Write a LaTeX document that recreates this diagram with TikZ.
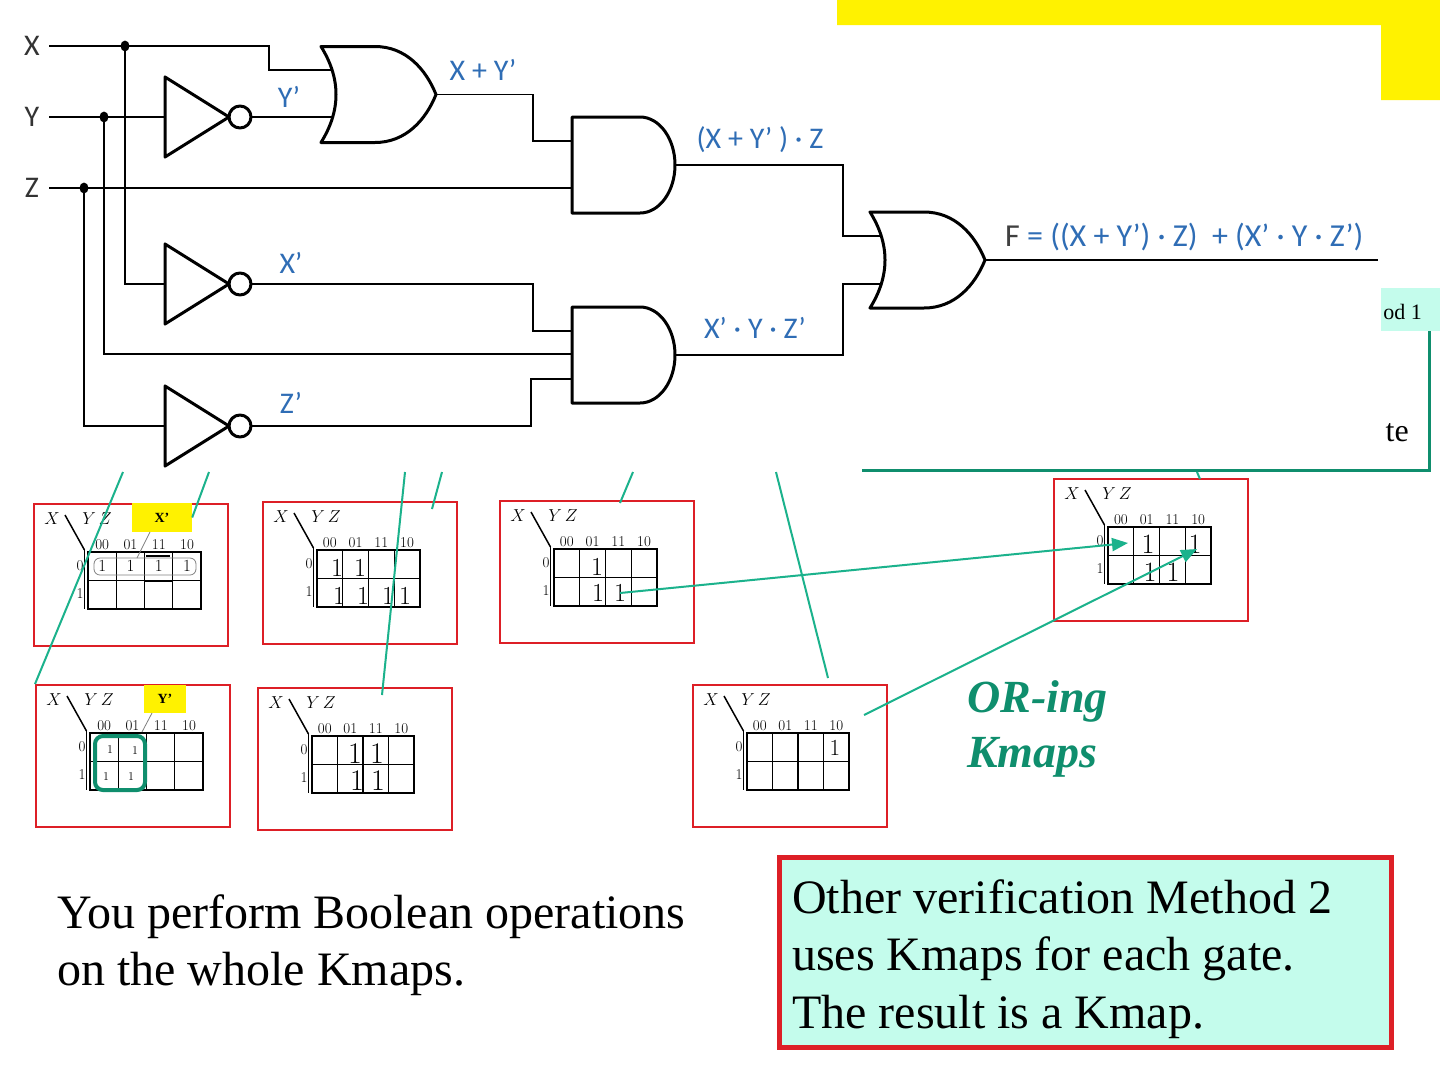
\documentclass[tikz,border=0pt]{standalone}
\usepackage{fontspec}
\newfontfamily\timesfont{Liberation Serif}
\newfontfamily\calfont{Carlito}
\usepackage{tikz}
\usetikzlibrary{arrows.meta}
\definecolor{wireblue}{HTML}{2F6DB5}
\definecolor{kred}{HTML}{DD1F26}
\definecolor{linkgreen}{HTML}{1BB28C}
\definecolor{darkteal}{HTML}{0F8E6D}
\definecolor{mint}{HTML}{C4FCEC}
\tikzstyle{wire} = [line width=1.8pt]
\tikzstyle{gate} = [line width=3pt, line join=round]
\tikzstyle{kbox} = [draw=kred, line width=2pt, minimum width=194pt, minimum height=142pt, inner sep=0pt]
\tikzstyle{kgrid} = [line width=2pt]
\tikzstyle{kline} = [line width=1.1pt]
\tikzstyle{klabel} = [inner sep=0pt, font=\fontsize{15}{15}\selectfont]
\tikzstyle{ktag} = [fill=yellow, inner sep=0pt, font=\timesfont\bfseries\fontsize{14}{14}\selectfont]
\tikzstyle{lead} = [gray, line width=0.8pt]
\tikzstyle{cirlabel} = [inner sep=0pt, text=wireblue, font=\calfont\fontsize{30}{30}\selectfont]
\tikzstyle{inlabel} = [inner sep=0pt, text=black!80, font=\calfont\fontsize{30}{30}\selectfont]
\tikzstyle{link} = [draw=linkgreen, line width=2pt]
\tikzstyle{arrow} = [link, -{Triangle[length=16pt,width=13pt]}]
\tikzset{
  kval/.style={inner sep=0pt, font=\fontsize{#1}{#1}\selectfont},
  orgate/.pic={\draw[gate] (0,-48) .. controls (20,-16) and (20,16) .. (0,48) -- (54,48)
      .. controls (85,48) and (105,25) .. (115,0) .. controls (105,-25) and (85,-48) .. (54,-48) -- cycle;},
  andgate/.pic={\draw[gate] (0,-48) -- (68,-48) .. controls (87.3,-48) and (103,-26.5) .. (103,0)
      .. controls (103,26.5) and (87.3,48) .. (68,48) -- (0,48) -- cycle;},
  notgate/.pic={\draw[gate] (0,-40) -- (64,0) -- (0,40) -- cycle; \draw[gate] (75,0) circle (11);}
}
% one Kmap: #1 name, #2 cell width (grid origin = scope origin)
\newcommand{\kmapgrid}[2]{%
  \node[kbox] (#1) at (43,23) {};
  \draw[kgrid] (0,0) rectangle (4*#2,57);
  \draw[kline] (0,28.5) -- (4*#2,28.5);
  \foreach \c in {1,2,3} \draw[kline] (\c*#2,0) -- (\c*#2,57);
  \draw[line width=1.3pt] (-3.5,-2) -- (-3.5,57);
  \draw[line width=1.5pt] (-23,-37) -- (-3.5,-2);
  \node[klabel, font=\fontsize{16}{16}\selectfont] (#1-x) at (-36,-33) {$X$};
  \node[klabel, font=\fontsize{16}{16}\selectfont] (#1-yz) at (9,-33) {$Y\,Z$};
  \foreach \h [count=\i from 0] in {00,01,11,10}
    \node[klabel] (#1-h\h) at ({(\i+0.5)*#2},-7) {\h};
  \node[klabel] (#1-r0) at (-8,14) {0};
  \node[klabel] (#1-r1) at (-8,42) {1};
}

\begin{document}
\begin{tikzpicture}[x=1pt,y=-1pt]
\useasboundingbox (0,0) rectangle (1440,1080);
\fill[white] (0,0) rectangle (1440,1080);

% pieces of the slide behind the circuit
\fill[yellow] (837,0) -- (1440,0) -- (1440,100) -- (1381,100) -- (1381,25) -- (837,25) -- cycle;
\fill[mint] (1381,288) rectangle (1440,331);
\begin{scope}
  \clip (1381,288) rectangle (1440,331);
  \node[anchor=base east, inner sep=0pt, font=\timesfont\fontsize{22}{22}\selectfont] (m1) at (1422,319) {od 1};
\end{scope}
\begin{scope}
  \clip (1381,400) rectangle (1428,468);
  \node[anchor=base east, inner sep=0pt, font=\timesfont\fontsize{32}{32}\selectfont] (m2) at (1409,441) {te};
\end{scope}
\draw[darkteal, line width=3pt] (862,470) -- (1429,470) -- (1429,331);

% circuit
\pic (not1) at (165,117) {notgate};
\pic (not2) at (165,284) {notgate};
\pic (not3) at (165,426) {notgate};
\pic (or1) at (321,94.5) {orgate};
\pic (and1) at (572,165) {andgate};
\pic (and2) at (572,355) {andgate};
\pic (or2) at (870,260) {orgate};

\draw[wire] (49,46) -- (269,46) -- (269,70) -- (332,70);
\draw[wire] (49,117) -- (165,117);
\draw[wire] (251,117) -- (332,117);
\draw[wire] (49,188) -- (572,188);
\draw[wire] (436,94.5) -- (533,94.5) -- (533,141) -- (572,141);
\draw[wire] (675,165) -- (843,165) -- (843,236) -- (881,236);
\draw[wire] (125,46) -- (125,284) -- (165,284);
\draw[wire] (251,284) -- (533,284) -- (533,331) -- (572,331);
\draw[wire] (104,117) -- (104,354) -- (572,354);
\draw[wire] (84,188) -- (84,426) -- (165,426);
\draw[wire] (251,426) -- (531,426) -- (531,379) -- (572,379);
\draw[wire] (675,355) -- (843,355) -- (843,284) -- (881,284);
\draw[wire] (984,260) -- (1378,260);
\foreach \p in {(125,46),(104,117),(84,188)} \fill \p ellipse (4.5 and 5.5);

\node[inlabel] (inx) at (32,46) {X};
\node[inlabel] (iny) at (32,117) {Y};
\node[inlabel] (inz) at (32,188) {Z};
\node[cirlabel] (lyp) at (289,97) {Y’};
\node[cirlabel] (lxp) at (291,263) {X’};
\node[cirlabel] (lzp) at (291,403) {Z’};
\node[cirlabel] (lor1) at (483,70) {X + Y’};
\node[cirlabel] (land1) at (760,140) {(X + Y’ ) · Z};
\node[cirlabel] (land2) at (755,328) {X’ · Y · Z’};
\node[cirlabel, anchor=west, font=\calfont\fontsize{32}{32}\selectfont] (lf) at (1005,237)
  {\textcolor{black!75}{F} = ((X + Y’) · Z) \ + (X’ · Y · Z’)};

% Kmaps, top row
\begin{scope}[shift={(88,552)}]
  \kmapgrid{k1}{28.3}
  \draw[lead, rounded corners=6pt] (6,6) rectangle (108,23);
  \foreach \c in {0,...,3} \node[kval=17] (k1-v\c) at ({(\c+0.5)*28.3},14) {1};
  \draw[kgrid] (56.6,28.5) -- (84.9,28.5);
  \draw[kgrid] (56.6,57) -- (84.9,57);
  \draw[kline] (58,4) -- (82,4);
  \node[ktag, minimum width=60pt, minimum height=29pt] (k1-tag) at (74,-34.5) {X’};
  \draw[lead] (62,-20) -- (49,6);
\end{scope}
\begin{scope}[shift={(317,550)}]
  \kmapgrid{k2}{25.75}
  \node[kval=26] (k2-a) at (20,18) {1};
  \node[kval=26] (k2-b) at (43,18) {1};
  \node[kval=26] (k2-c) at (22,46) {1};
  \node[kval=26] (k2-d) at (46,46) {1};
  \node[kval=26] (k2-e) at (71,46) {1};
  \node[kval=26] (k2-f) at (88,46) {1};
\end{scope}
\begin{scope}[shift={(554,549)}]
  \kmapgrid{k3}{25.75}
  \node[kval=26] (k3-a) at (43,18) {1};
  \node[kval=26] (k3-b) at (44,44) {1};
  \node[kval=26] (k3-c) at (66,44) {1};
\end{scope}
\begin{scope}[shift={(1108,527)}]
  \kmapgrid{kr}{25.75}
  \node[kval=28] (kr-a) at (40,17) {1};
  \node[kval=28] (kr-b) at (87,17) {1};
  \node[kval=28] (kr-c) at (42,45) {1};
  \node[kval=28] (kr-d) at (65,45) {1};
\end{scope}

% Kmaps, bottom row
\begin{scope}[shift={(90,733)}]
  \kmapgrid{k4}{28.3}
  \node[kval=12] (k4-a) at (20,16) {1};
  \node[kval=12] (k4-b) at (45,17) {1};
  \node[kval=12] (k4-c) at (16,43) {1};
  \node[kval=12] (k4-d) at (41,43) {1};
  \draw[darkteal, line width=4pt, rounded corners=8pt] (5,3) rectangle (55,57);
  \draw[kgrid, line width=2.6pt] (57,57) -- (87,57);
  \node[ktag, minimum width=42pt, minimum height=28pt] (k4-tag) at (75,-34) {Y’};
  \draw[lead] (62,-20) -- (52,-1);
\end{scope}
\begin{scope}[shift={(312,736)}]
  \kmapgrid{k5}{25.5}
  \node[kval=30] (k5-a) at (43,18) {1};
  \node[kval=30] (k5-b) at (65,18) {1};
  \node[kval=30] (k5-c) at (45,45) {1};
  \node[kval=30] (k5-d) at (66,45) {1};
\end{scope}
\begin{scope}[shift={(747,733)}]
  \kmapgrid{k6}{25.5}
  \node[kval=23] (k6-a) at (88,15) {1};
\end{scope}

% links from the gates to their Kmaps
\coordinate (s1) at (123,472); \coordinate (s2) at (209,472);
\coordinate (s3) at (405,472); \coordinate (s4) at (442,472);
\coordinate (s5) at (633,472); \coordinate (s6) at (776,472);
\coordinate (s7) at (1197,472);
\coordinate (e3) at (382,695); \coordinate (e4) at (432,509);
\coordinate (e5) at (620,503); \coordinate (e6) at (828,678);
\coordinate (e7) at (1200,479); \coordinate (o6) at (864,715);
\coordinate (t1) at (1128,543); \coordinate (t2) at (1197,549);
\draw[link] (s1) -- (k4.north west);
\draw[link] (s2) -- (k1-tag.east);
\draw[link] (s3) -- (e3);
\draw[link] (s4) -- (e4);
\draw[link] (s5) -- (e5);
\draw[link] (s6) -- (e6);
\draw[link] (s7) -- (e7);
\draw[arrow] (k3-c.center) -- (t1);
\draw[arrow] (o6) -- (t2);

\node[anchor=base west, inner sep=0pt, align=left, text=darkteal,
  font=\timesfont\bfseries\itshape\fontsize{46}{55}\selectfont] (oring) at (967,767) {OR-ing\\Kmaps};

% texts at the bottom
\node[anchor=base west, inner sep=0pt, align=left, font=\timesfont\fontsize{48}{57}\selectfont]
  (note) at (57,985) {You perform Boolean operations\\on the whole Kmaps.};
\draw[kred, line width=5pt, fill=mint] (779,857) rectangle (1391,1047);
\node[anchor=base west, inner sep=0pt, align=left, font=\timesfont\fontsize{48}{57.5}\selectfont]
  (method) at (792,1028) {Other verification Method 2\\uses Kmaps for each gate.\\The result is a Kmap.};
\end{tikzpicture}
\end{document}
